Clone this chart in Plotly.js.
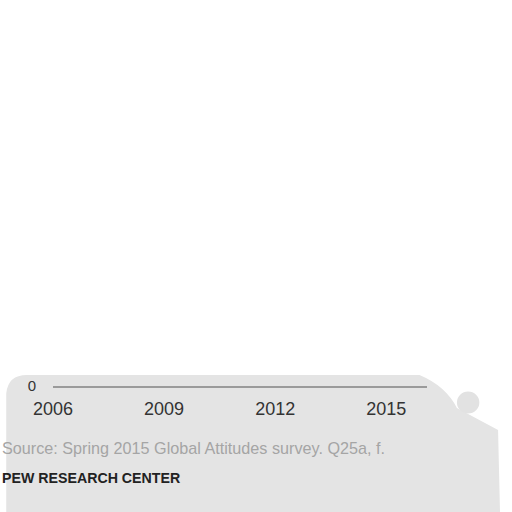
<!DOCTYPE html>
<html>
<head>
<meta charset="utf-8">
<script src="https://cdn.plot.ly/plotly-3.0.1.min.js"></script>
<style>html,body{margin:0;padding:0;background:#fff;}#chart{width:512px;height:512px;}</style>
</head>
<body>
<div id="chart"></div>
<script>
var years = [2006, 2009, 2012, 2015];
var yearLabels = ['2006', '2009', '2012', '2015'];
var yTicks = [0];
var yTickLabels = ['0'];
var sourceText = 'Source: Spring 2015 Global Attitudes survey. Q25a, f.';
var creditText = 'PEW RESEARCH CENTER';

var layout = {
  width: 512, height: 512,
  margin: {l: 53, r: 85, t: 20, b: 126},
  paper_bgcolor: '#ffffff',
  plot_bgcolor: 'rgba(0,0,0,0)',
  showlegend: false,
  xaxis: {
    range: [2006, 2016.1],
    tickvals: years, ticktext: yearLabels,
    showgrid: false, zeroline: false,
    showline: true, linecolor: '#9a9a9a', linewidth: 1.5,
    ticks: '', ticklabelstandoff: 6,
    tickfont: {family: 'Liberation Sans, Arial, sans-serif', size: 18, color: '#333'},
    fixedrange: true
  },
  yaxis: {
    range: [0, 100],
    tickvals: yTicks, ticktext: yTickLabels,
    showgrid: false, zeroline: false, showline: false,
    ticks: '', ticklabelstandoff: 16,
    tickfont: {family: 'Liberation Sans, Arial, sans-serif', size: 15, color: '#333'},
    fixedrange: true
  },
  shapes: [
    {type: 'path', xref: 'paper', yref: 'paper', layer: 'below',
     path: 'M -0.125 -0.02 Q -0.12 0.03 -0.07 0.03 L 0.98 0.03 Q 1.05 0.0 1.08 -0.06 L 1.19 -0.12 L 1.2 -0.55 Q 1.1 -0.64 0.9 -0.62 L -0.125 -0.64 Z',
     fillcolor: '#e4e4e4', line: {width: 0}},
    {type: 'circle', xref: 'paper', yref: 'paper', layer: 'below',
     x0: 1.08, x1: 1.14, y0: -0.075, y1: -0.015,
     fillcolor: '#e2e2e2', line: {width: 0}}
  ],
  annotations: [
    {xref: 'paper', yref: 'paper', x: -0.143, y: -0.17, xanchor: 'left', yanchor: 'middle',
     text: sourceText, showarrow: false,
     font: {family: 'Liberation Sans, Arial, sans-serif', size: 16.2, color: '#a5a5a5'}},
    {xref: 'paper', yref: 'paper', x: -0.143, y: -0.25, xanchor: 'left', yanchor: 'middle',
     text: '<b>' + creditText + '</b>', showarrow: false,
     font: {family: 'Liberation Sans, Arial, sans-serif', size: 14.2, color: '#222'}}
  ]
};

Plotly.newPlot('chart', [{x: years, y: [null, null, null, null], type: 'scatter', mode: 'lines', hoverinfo: 'skip'}], layout, {displayModeBar: false, staticPlot: true});
</script>
</body>
</html>
